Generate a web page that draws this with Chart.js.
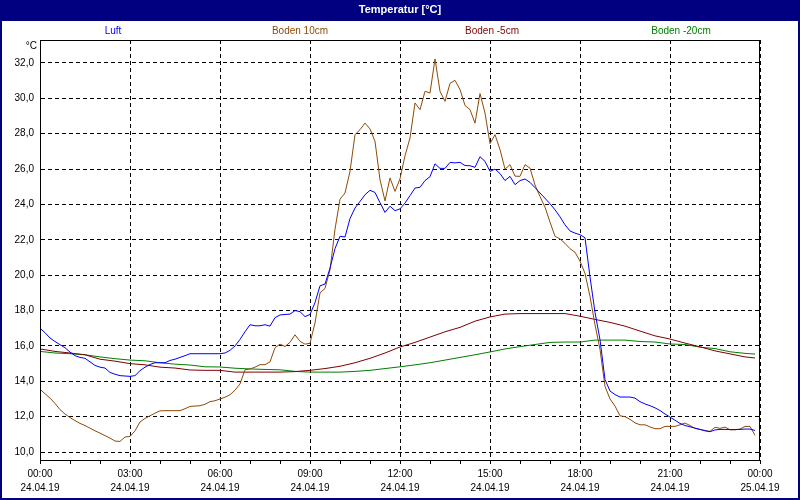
<!DOCTYPE html>
<html>
<head>
<meta charset="utf-8">
<script src="https://cdn.jsdelivr.net/npm/chart.js@4.4.1/dist/chart.umd.min.js"></script>
<style>
body { margin: 0; background: #fff; }
</style>
</head>
<body>
<canvas id="chart" width="800" height="500"></canvas>
<script>
// series names (shown in the header row) and colours
const seriesNames = ['Luft', 'Boden 10cm', 'Boden -5cm', 'Boden -20cm'];
const seriesColors = ['#0000ff', '#8f4a06', '#800000', '#008000'];

const chartTitle = 'Temperatur [°C]';
const unitLabel = '°C';
const dayLabels = ['24.04.19', '25.04.19'];

// time in minutes after 00:00 of 24.04.19
const timesFine = buildTimes(10, 144);           // 00:00 .. 23:50
const timesCoarse = buildTimes(30, 48).concat([1430]);

// Luft, every 10 min
const luft = [
    17.0, 16.75, 16.45, 16.25, 16.07, 15.9, 15.65, 15.45, 15.35, 15.3,
    15.1, 14.9, 14.8, 14.75, 14.5, 14.4, 14.32, 14.3, 14.28, 14.32,
    14.6, 14.8, 14.95, 15.05, 15.05, 15.05, 15.18, 15.25, 15.35, 15.45,
    15.56, 15.56, 15.56, 15.56, 15.56, 15.56, 15.56, 15.6, 15.75, 16.0,
    16.37, 16.8, 17.2, 17.14, 17.14, 17.2, 17.12, 17.6, 17.75, 17.78,
    17.8, 18.0, 17.94, 17.66, 17.78, 18.45, 19.4, 19.5, 20.4, 21.5,
    22.2, 22.16, 23.2, 23.8, 24.17, 24.55, 24.8, 24.68, 24.1, 23.55,
    23.9, 23.65, 23.75, 24.08, 24.5, 24.93, 24.97, 25.35, 25.57, 26.3,
    26.04, 26.04, 26.38, 26.35, 26.38, 26.2, 26.19, 26.1, 26.7, 26.44,
    25.87, 26.0, 25.75, 25.35, 25.59, 25.12, 25.35, 25.44, 25.25, 24.95,
    24.65, 24.35, 24.04, 23.7, 23.3, 22.85, 22.5, 22.38, 22.29, 22.12,
    19.9, 17.9, 16.35, 14.1, 13.45, 13.25, 13.11, 13.11, 13.11, 13.05,
    12.85, 12.72, 12.62, 12.5, 12.35, 12.15, 11.98, 11.8, 11.62, 11.5,
    11.43, 11.35, 11.28, 11.2, 11.15, 11.25, 11.28, 11.28, 11.27, 11.27,
    11.28, 11.3, 11.3, 11.22
];

// Boden 10cm, every 10 min
const boden10 = [
    13.55, 13.3, 13.05, 12.75, 12.4, 12.15, 11.95, 11.78, 11.62, 11.5,
    11.35, 11.2, 11.07, 10.93, 10.79, 10.62, 10.6, 10.85, 10.88, 11.2,
    11.7, 11.9, 12.05, 12.2, 12.33, 12.34, 12.34, 12.34, 12.34, 12.45,
    12.58, 12.6, 12.62, 12.7, 12.85, 12.9, 13.0, 13.1, 13.24, 13.5,
    13.85, 14.65, 14.7, 14.8, 14.94, 14.94, 15.1, 15.9, 16.1, 15.97,
    16.2, 16.63, 16.26, 16.1, 16.15, 17.3, 19.0, 19.25, 20.3, 22.6,
    24.3, 24.65, 25.87, 27.95, 28.23, 28.6, 28.27, 27.57, 25.4, 24.2,
    25.5, 24.74, 25.45, 26.76, 27.76, 29.74, 29.36, 30.4, 30.3, 32.23,
    30.4, 29.83, 30.85, 31.02, 30.5, 29.6, 29.36, 28.6, 30.27, 29.17,
    27.44, 27.95, 27.1, 26.0, 26.25, 25.6, 25.59, 26.25, 26.06, 25.1,
    24.45, 23.85, 23.0, 22.2, 22.05, 21.8, 21.5, 21.3, 20.8, 20.1,
    18.8, 17.2, 15.8, 13.71, 13.0, 12.6, 12.05, 12.0, 11.85, 11.65,
    11.54, 11.54, 11.42, 11.32, 11.32, 11.45, 11.45, 11.45, 11.54, 11.64,
    11.5, 11.34, 11.28, 11.22, 11.17, 11.4, 11.34, 11.41, 11.26, 11.26,
    11.3, 11.45, 11.45, 10.95
];

// Boden -5cm, every 30 min
const bodenMinus5 = [
    15.83, 15.69, 15.6, 15.5, 15.25, 15.14, 15.0, 14.93, 14.8, 14.75,
    14.64, 14.62, 14.62, 14.52, 14.52, 14.52, 14.52, 14.55, 14.62, 14.72,
    14.85, 15.05, 15.3, 15.6, 15.94, 16.2, 16.5, 16.8, 17.05, 17.4,
    17.64, 17.8, 17.83, 17.83, 17.83, 17.83, 17.68, 17.5, 17.33, 17.12,
    16.84, 16.57, 16.39, 16.16, 15.95, 15.72, 15.55, 15.38, 15.32
];

// Boden -20cm, every 30 min
const bodenMinus20 = [
    15.69, 15.6, 15.56, 15.5, 15.38, 15.28, 15.2, 15.16, 15.05, 14.97,
    14.92, 14.82, 14.81, 14.74, 14.7, 14.67, 14.65, 14.56, 14.52, 14.52,
    14.52, 14.56, 14.62, 14.72, 14.82, 14.93, 15.05, 15.2, 15.35, 15.5,
    15.66, 15.83, 15.96, 16.08, 16.2, 16.22, 16.22, 16.33, 16.33, 16.33,
    16.25, 16.22, 16.11, 16.08, 15.93, 15.85, 15.67, 15.58, 15.54
];

const labelFont = "'Liberation Sans', Arial, sans-serif";

function buildTimes(step, count) {
    let arr = [];
    for (let i = 0; i < count; i++) {
        arr.push(i * step);
    }
    return arr;
}

function toPoints(times, values) {
    return values.map(function (v, i) {
        return { x: times[i], y: v };
    });
}

function pad2(n) {
    return (n < 10 ? '0' : '') + n;
}

function makeDataset(i, times, values) {
    return {
        label: seriesNames[i],
        data: toPoints(times, values),
        borderColor: seriesColors[i],
        borderWidth: 1,
        pointRadius: 0,
        tension: 0,
        fill: false
    };
}

// window frame, title bar, header labels and plot border
const framePlugin = {
    id: 'frame',
    beforeDraw: function (chart) {
        const ctx = chart.ctx;
        ctx.save();
        ctx.fillStyle = '#000080';
        ctx.fillRect(0, 0, chart.width, chart.height);
        ctx.fillStyle = '#ffffff';
        ctx.fillRect(2, 21, chart.width - 4, chart.height - 23);
        ctx.fillStyle = '#ffffff';
        ctx.font = 'bold 11px ' + labelFont;
        ctx.textAlign = 'center';
        ctx.textBaseline = 'middle';
        ctx.fillText(chartTitle, chart.width / 2, 10);
        ctx.restore();
    },
    afterDraw: function (chart) {
        const ctx = chart.ctx;
        const area = chart.chartArea;
        ctx.save();
        ctx.strokeStyle = '#000';
        ctx.lineWidth = 1;
        ctx.strokeRect(area.left + 0.5, area.top + 0.5, area.right - area.left - 1, area.bottom - area.top);

        ctx.font = '10px ' + labelFont;
        ctx.textBaseline = 'middle';
        ctx.textAlign = 'center';
        const centers = [113, 300, 492, 681];
        for (let i = 0; i < seriesNames.length; i++) {
            ctx.fillStyle = seriesColors[i];
            ctx.fillText(seriesNames[i], centers[i], 31);
        }
        ctx.fillStyle = '#000';
        ctx.textAlign = 'right';
        ctx.fillText(unitLabel, 37, 46);
        ctx.restore();
    }
};

const ctx1 = document.getElementById('chart');

const chart1 = new Chart(ctx1, {
    type: 'line',
    data: {
        datasets: [
            makeDataset(0, timesFine, luft),
            makeDataset(1, timesFine, boden10),
            makeDataset(2, timesCoarse, bodenMinus5),
            makeDataset(3, timesCoarse, bodenMinus20)
        ]
    },
    options: {
        responsive: false,
        animation: false,
        layout: { padding: { top: 40, right: 40, left: 0, bottom: 0 } },
        plugins: {
            legend: { display: false },
            tooltip: { enabled: false }
        },
        scales: {
            x: {
                type: 'linear',
                min: 0,
                max: 1440,
                afterFit: function (scale) { scale.height = 40; },
                border: { display: true, color: '#000', width: 1, dash: [4, 3] },
                grid: {
                    color: function (c) {
                        return c.tick && c.tick.value % 180 === 0 ? '#000' : 'rgba(0,0,0,0)';
                    },
                    tickColor: '#000',
                    tickLength: 4,
                    tickBorderDash: [],
                    drawTicks: true
                },
                ticks: {
                    stepSize: 60,
                    autoSkip: false,
                    maxRotation: 0,
                    padding: 3,
                    color: '#000',
                    font: { family: labelFont, size: 10, lineHeight: 1.4 },
                    callback: function (value) {
                        if (value % 180 !== 0) return '';
                        const h = Math.floor(value / 60) % 24;
                        const day = value >= 1440 ? dayLabels[1] : dayLabels[0];
                        return [pad2(h) + ':00', day];
                    }
                }
            },
            y: {
                min: 9.55,
                max: 33.3,
                afterFit: function (scale) { scale.width = 40; },
                border: { display: true, color: '#000', width: 1, dash: [4, 3] },
                grid: {
                    color: '#000',
                    drawTicks: false
                },
                ticks: {
                    stepSize: 2,
                    includeBounds: false,
                    padding: 6,
                    color: '#000',
                    font: { family: labelFont, size: 10 },
                    callback: function (value) {
                        return value.toFixed(1).replace('.', ',');
                    }
                }
            }
        }
    },
    plugins: [framePlugin]
});
</script>
</body>
</html>
